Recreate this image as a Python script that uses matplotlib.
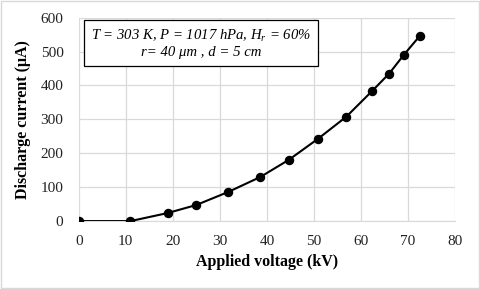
import matplotlib
matplotlib.use('Agg')
import matplotlib.pyplot as plt

# 读取的数据点
voltage = [0, 11.0, 18.9, 25.0, 31.8, 38.6, 44.7, 50.9, 56.9, 62.4, 66.0, 69.1, 72.5]
current = [0, 0, 23.7, 47.5, 86, 130, 181, 243, 308, 384, 435, 490, 546]

x_ticks = [0, 10, 20, 30, 40, 50, 60, 70, 80]
y_ticks = [0, 100, 200, 300, 400, 500, 600]

plt.rcParams['font.family'] = ['Liberation Serif', 'DejaVu Serif']
plt.rcParams['mathtext.fontset'] = 'custom'
plt.rcParams['mathtext.rm'] = 'Liberation Serif'
plt.rcParams['mathtext.it'] = 'Liberation Serif:italic'

fig = plt.figure(figsize=(4.8, 2.89), dpi=100)
ax = fig.add_axes([0.164, 0.235, 0.784, 0.704])

ax.plot(voltage, current, color='black', lw=1.5, marker='o', ms=5.8, zorder=3)

ax.set_xlim(0, 80)
ax.set_ylim(0, 600)
ax.set_xticks(x_ticks)
ax.set_yticks(y_ticks)
ax.grid(True, color='#d9d9d9', lw=0.9)
ax.set_axisbelow(True)
for s in ax.spines.values():
    s.set_visible(False)
ax.spines['bottom'].set_visible(True)
ax.spines['bottom'].set_color('#d9d9d9')
ax.tick_params(length=0, labelsize=11, colors='#222222')
ax.tick_params(axis='y', pad=11)
ax.tick_params(axis='x', pad=10)

ax.set_xlabel('Applied voltage (kV)', fontsize=11.5, fontweight='bold', labelpad=4)
ax.set_ylabel('Discharge current (μA)', fontsize=11.5, fontweight='bold', labelpad=7)

ax.text(0.325, 0.872, 'T = 303 K, P = 1017 hPa, H$_r$ = 60%\nr= 40 μm , d = 5 cm',
        transform=ax.transAxes, ha='center', va='center', fontsize=10.6,
        style='italic', linespacing=1.25,
        bbox=dict(boxstyle='square,pad=0.45', fc='white', ec='black', lw=0.9))

# 外边框
fig.patches.append(plt.Rectangle((0.003, 0.004), 0.994, 0.992, transform=fig.transFigure,
                                 fill=False, ec='#d9d9d9', lw=1))

fig.savefig('out.png', dpi=100)
